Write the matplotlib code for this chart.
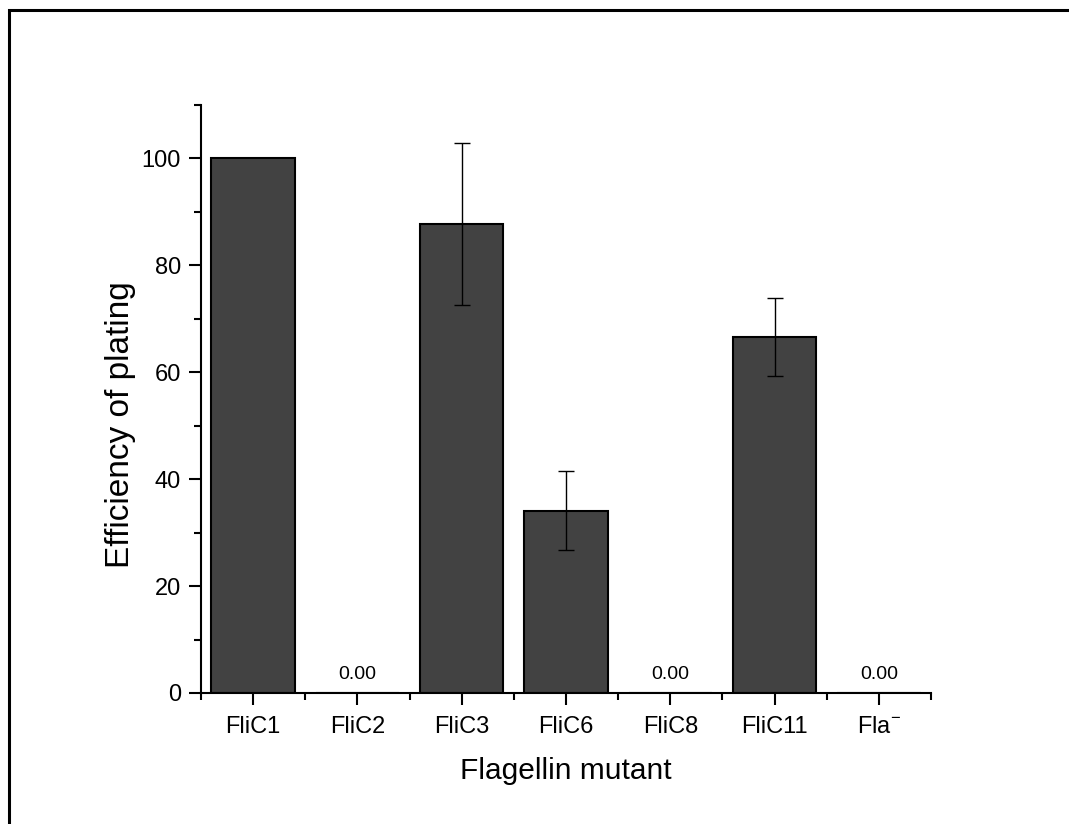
import matplotlib
matplotlib.use('Agg')
import matplotlib.pyplot as plt
from matplotlib.patches import Rectangle
from matplotlib.ticker import MultipleLocator
import numpy as np

plt.rcParams['font.family'] = ['Liberation Sans', 'DejaVu Sans']
plt.rcParams['mathtext.fontset'] = 'custom'
plt.rcParams['mathtext.rm'] = 'Liberation Sans'
plt.rcParams['mathtext.it'] = 'Liberation Sans:italic'

# Efficiency of plating per flagellin mutant (mean and error)
mutants = ['FliC1', 'FliC2', 'FliC3', 'FliC6', 'FliC8', 'FliC11', 'Fla$^{-}$']
eop = [100.0, 0.0, 87.7, 34.1, 0.0, 66.6, 0.0]
eop_err = [0.0, 0.0, 15.2, 7.4, 0.0, 7.3, 0.0]

fig = plt.figure(figsize=(10.69, 8.24), dpi=100)
ax = fig.add_axes([0.188, 0.159, 0.683, 0.7136])

x = np.arange(len(mutants))
ax.bar(x, eop, width=0.8, color='#424242', edgecolor='black', linewidth=1.5, zorder=2)

# error bars only where there is a spread
has_err = [i for i, e in enumerate(eop_err) if e > 0]
ax.errorbar([x[i] for i in has_err], [eop[i] for i in has_err],
            yerr=[eop_err[i] for i in has_err], fmt='none', ecolor='black',
            elinewidth=1.0, capsize=6, capthick=1.0, zorder=3)

# value labels for the empty bars
for xi, v in zip(x, eop):
    if v == 0:
        ax.annotate(f'{v:.2f}', (xi, v), xytext=(0, 7), textcoords='offset points',
                    ha='center', va='bottom', fontsize=14)

ax.set_xlim(-0.5, len(mutants) - 0.5)
ax.set_ylim(0, 110)
ax.set_xticks(x)
ax.set_xticklabels(mutants)
ax.xaxis.set_minor_locator(MultipleLocator(1, offset=0.5))
ax.yaxis.set_major_locator(MultipleLocator(20))
ax.yaxis.set_minor_locator(MultipleLocator(10))

for side in ['top', 'right']:
    ax.spines[side].set_visible(False)
for side in ['left', 'bottom']:
    ax.spines[side].set_linewidth(1.5)

ax.tick_params(which='major', direction='out', length=8.5, width=1.5, labelsize=17)
ax.tick_params(axis='x', which='major', pad=8)
ax.tick_params(axis='y', which='major', pad=6)
ax.tick_params(which='minor', direction='out', length=5, width=1.5)

ax.set_xlabel('Flagellin mutant', fontsize=21.5, labelpad=14)
ax.set_ylabel('Efficiency of plating', fontsize=24)
ax.yaxis.set_label_coords(-0.089, 0.456)

# outer frame
frame = Rectangle((9 / 1069, -0.1), 1.2, 1.1 - 10 / 824, transform=fig.transFigure,
                  fill=False, edgecolor='black', linewidth=2.2, clip_on=False)
fig.patches.append(frame)

fig.savefig('out.png', dpi=100, facecolor='white')
